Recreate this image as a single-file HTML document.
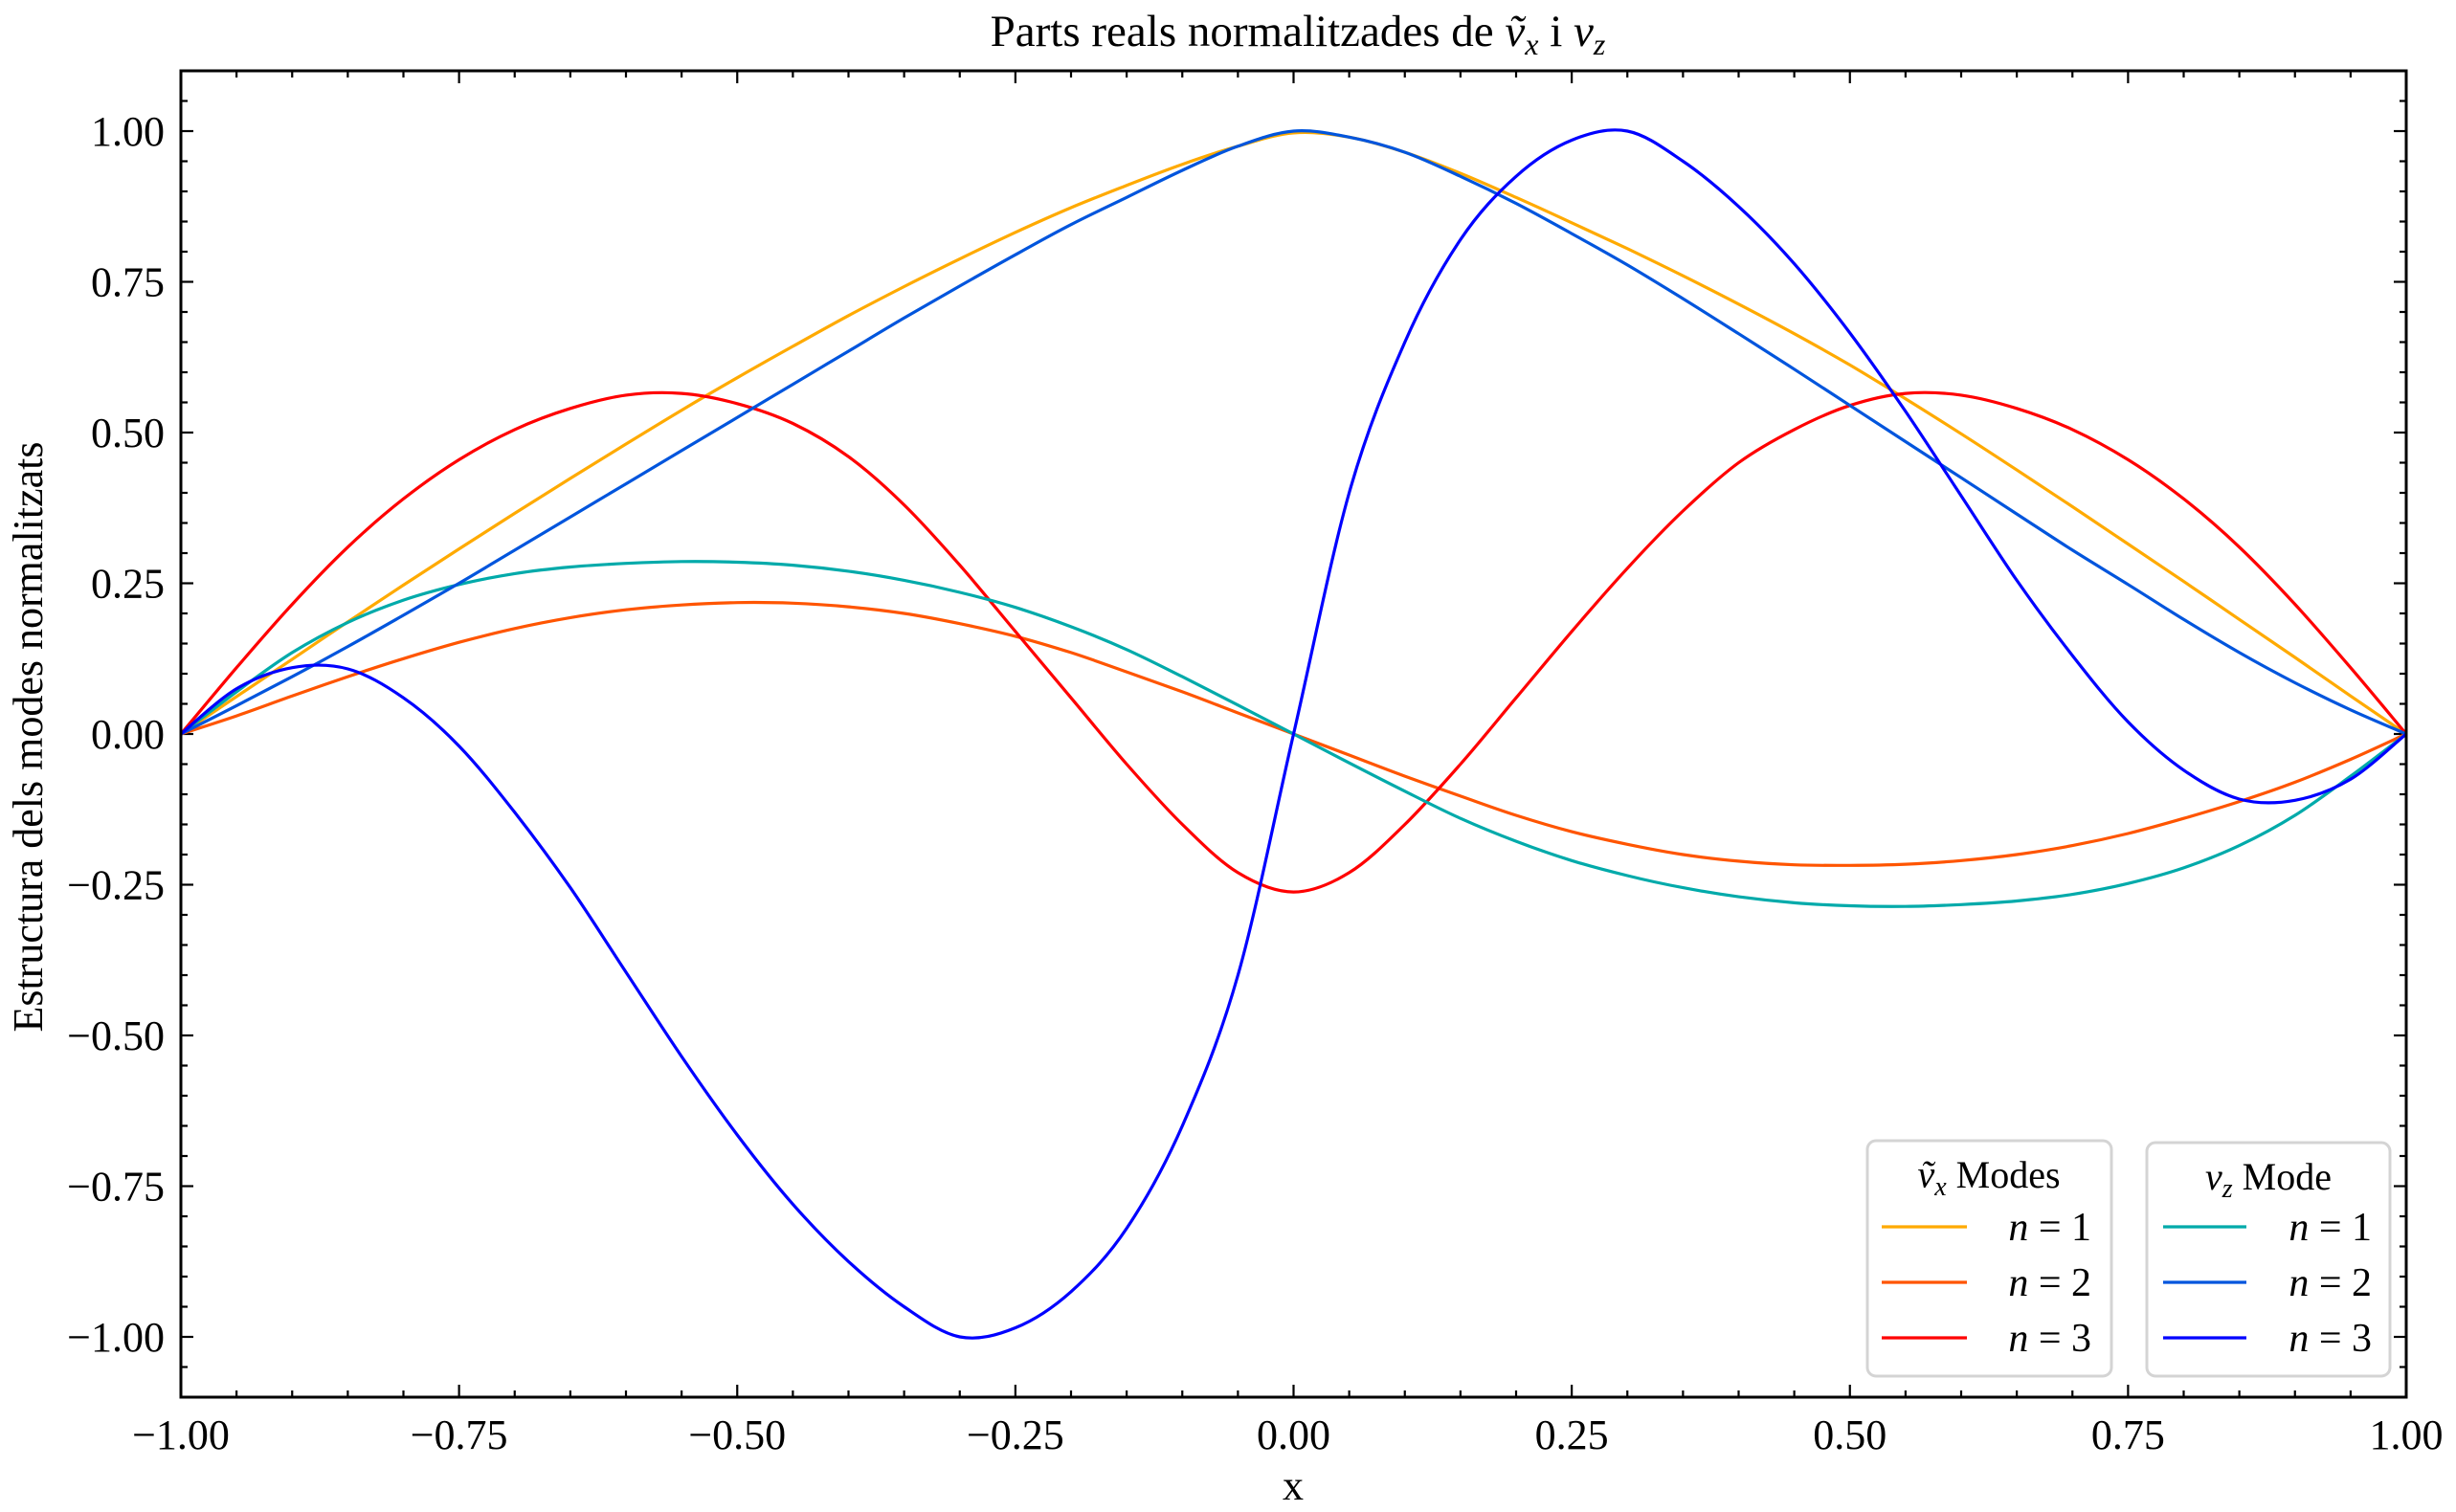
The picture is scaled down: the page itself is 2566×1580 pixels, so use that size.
<!DOCTYPE html>
<html><head><meta charset="utf-8"><style>
html,body{margin:0;padding:0;background:#fff;}
svg{display:block;font-family:"Liberation Serif",serif;}
</style></head><body>
<svg id="chart" width="2566" height="1580" viewBox="0 0 2566 1580" xmlns="http://www.w3.org/2000/svg">
<rect width="2566" height="1580" fill="#fff"/>
<text x="1356" y="48" font-size="47" text-anchor="middle">Parts reals normalitzades de <tspan font-style="italic">ṽ</tspan><tspan font-style="italic" font-size="32" dy="9">x</tspan><tspan dy="-9"> i </tspan><tspan font-style="italic">v</tspan><tspan font-style="italic" font-size="32" dy="9">z</tspan></text>
<text transform="translate(44,770) rotate(-90)" font-size="44" text-anchor="middle">Estructura dels modes normalitzats</text>
<text x="1351" y="1567" font-size="44" text-anchor="middle">x</text>
<g id="ticks"></g>
<g id="series"></g>
<rect x="189" y="74" width="2325" height="1386" fill="none" stroke="#000" stroke-width="3"/>
<g>
<rect x="1951" y="1192" width="255" height="246" rx="9" fill="#fff" stroke="#d4d4d4" stroke-width="3"/>
<text x="2078" y="1241" font-size="40" text-anchor="middle"><tspan font-style="italic">ṽ</tspan><tspan font-style="italic" font-size="28" dy="8">x</tspan><tspan dy="-8"> Modes</tspan></text>
</g>
<g>
<rect x="2243" y="1194" width="254" height="244" rx="9" fill="#fff" stroke="#d4d4d4" stroke-width="3"/>
<text x="2370" y="1243" font-size="40" text-anchor="middle"><tspan font-style="italic">v</tspan><tspan font-style="italic" font-size="28" dy="8">z</tspan><tspan dy="-8"> Mode</tspan></text>
</g>
<g id="legend-entries"></g>
</svg>
<script>
const xs = [-1,-0.95,-0.9,-0.85,-0.8,-0.75,-0.7,-0.65,-0.6,-0.55,-0.5,-0.45,-0.4,-0.35,-0.3,-0.25,-0.2,-0.15,-0.1,-0.05,0,0.05,0.1,0.15,0.2,0.25,0.3,0.35,0.4,0.45,0.5,0.55,0.6,0.65,0.7,0.75,0.8,0.85,0.9,0.95,1];
const vx1 = [0,0.062,0.124,0.186,0.247,0.307,0.366,0.424,0.481,0.537,0.591,0.643,0.694,0.742,0.788,0.832,0.873,0.91,0.945,0.975,0.997,0.99,0.965,0.93,0.89,0.848,0.805,0.76,0.713,0.664,0.612,0.556,0.498,0.438,0.377,0.315,0.253,0.19,0.127,0.063,0];
const vx2 = [0,0.03,0.063,0.095,0.125,0.152,0.175,0.193,0.206,0.214,0.218,0.217,0.211,0.2,0.183,0.162,0.135,0.103,0.07,0.035,0,-0.035,-0.07,-0.103,-0.135,-0.162,-0.183,-0.2,-0.211,-0.217,-0.218,-0.216,-0.21,-0.2,-0.185,-0.165,-0.14,-0.112,-0.08,-0.042,0];
const vx3 = [0,0.11,0.215,0.31,0.39,0.455,0.505,0.54,0.562,0.565,0.548,0.515,0.46,0.38,0.28,0.17,0.06,-0.05,-0.15,-0.23,-0.262,-0.23,-0.15,-0.05,0.06,0.17,0.275,0.37,0.45,0.505,0.545,0.565,0.562,0.54,0.505,0.455,0.39,0.31,0.215,0.11,0];
const vz1 = [0,0.07,0.135,0.185,0.222,0.248,0.266,0.277,0.283,0.286,0.285,0.28,0.27,0.255,0.235,0.21,0.178,0.14,0.095,0.048,0,-0.048,-0.095,-0.14,-0.178,-0.21,-0.235,-0.255,-0.27,-0.28,-0.285,-0.286,-0.283,-0.277,-0.266,-0.248,-0.222,-0.185,-0.135,-0.07,0];
const vz2 = [0,0.047,0.095,0.145,0.197,0.25,0.305,0.36,0.415,0.47,0.525,0.58,0.635,0.69,0.743,0.795,0.845,0.89,0.935,0.975,1.0,0.99,0.965,0.925,0.88,0.83,0.778,0.722,0.664,0.605,0.545,0.485,0.425,0.365,0.305,0.248,0.19,0.135,0.085,0.04,0];
const vz3 = [0,0.075,0.11,0.108,0.06,-0.02,-0.13,-0.255,-0.395,-0.535,-0.665,-0.78,-0.875,-0.95,-1.0,-0.985,-0.925,-0.82,-0.65,-0.4,0,0.4,0.65,0.82,0.925,0.985,1.0,0.95,0.875,0.78,0.665,0.535,0.395,0.255,0.13,0.02,-0.06,-0.108,-0.11,-0.075,0];
const xTicks = [-1,-0.75,-0.5,-0.25,0,0.25,0.5,0.75,1];
const xTickLabels = ["−1.00","−0.75","−0.50","−0.25","0.00","0.25","0.50","0.75","1.00"];
const yTicks = [-1,-0.75,-0.5,-0.25,0,0.25,0.5,0.75,1];
const yTickLabels = ["−1.00","−0.75","−0.50","−0.25","0.00","0.25","0.50","0.75","1.00"];
const seriesNames = ["vx-n1","vx-n2","vx-n3","vz-n1","vz-n2","vz-n3"];
const seriesLabels = ["1","2","3","1","2","3"];
const seriesColors = ["#ffaa00","#ff5500","#ff0000","#00aaaa","#0055dd","#0000ff"];
const seriesData = [vx1,vx2,vx3,vz1,vz2,vz3];

const L=189,R=2514,T=74,B=1460, X0=-1,X1=1,Y0=-1.1,Y1=1.1;
function sx(v){return L+(v-X0)/(X1-X0)*(R-L);}
function sy(v){return B-(v-Y0)/(Y1-Y0)*(B-T);}
const NS="http://www.w3.org/2000/svg";
function mk(tag,attrs,parent){const e=document.createElementNS(NS,tag);for(const k in attrs)e.setAttribute(k,attrs[k]);parent.appendChild(e);return e;}

const tg=document.getElementById('ticks');
for(let i=-20;i<=20;i++){
  const v=i*0.05; const major=(i%5===0); const len=major?13:7;
  const x=sx(v);
  const t1=mk('line',{x1:x,y1:B,x2:x,y2:B-len,stroke:'#000','stroke-width':2.2},tg);
  
  
  const t2=mk('line',{x1:x,y1:T,x2:x,y2:T+len,stroke:'#000','stroke-width':2.2},tg);
  
  
}
for(let i=-22;i<=22;i++){
  const v=i*0.05; const major=(i%5===0); const len=major?13:7;
  const y=sy(v);
  const t1=mk('line',{x1:L,y1:y,x2:L+len,y2:y,stroke:'#000','stroke-width':2.2},tg);
  
  
  const t2=mk('line',{x1:R,y1:y,x2:R-len,y2:y,stroke:'#000','stroke-width':2.2},tg);
  
  
}
xTicks.forEach((v,i)=>{
  const t=mk('text',{x:sx(v),y:1514,'font-size':44,'text-anchor':'middle'},tg);
  t.textContent=xTickLabels[i];
  
  
});
yTicks.forEach((v,i)=>{
  const t=mk('text',{x:172,y:sy(v)+15,'font-size':44,'text-anchor':'end'},tg);
  t.textContent=yTickLabels[i];
  
  
});

function pathFor(ys){
  const p=xs.map((x,i)=>[sx(x),sy(ys[i])]);
  let d='M'+p[0][0].toFixed(1)+','+p[0][1].toFixed(1);
  for(let i=0;i<p.length-1;i++){
    const p0=p[Math.max(0,i-1)],p1=p[i],p2=p[i+1],p3=p[Math.min(p.length-1,i+2)];
    const c1=[p1[0]+(p2[0]-p0[0])/6,p1[1]+(p2[1]-p0[1])/6];
    const c2=[p2[0]-(p3[0]-p1[0])/6,p2[1]-(p3[1]-p1[1])/6];
    d+=' C'+c1[0].toFixed(1)+','+c1[1].toFixed(1)+' '+c2[0].toFixed(1)+','+c2[1].toFixed(1)+' '+p2[0].toFixed(1)+','+p2[1].toFixed(1);
  }
  return d;
}
const sg=document.getElementById('series');
seriesData.forEach((ys,k)=>{
  const p=mk('path',{d:pathFor(ys),fill:'none',stroke:seriesColors[k],'stroke-width':3.2,'stroke-linejoin':'round'},sg);
  
  
});

const lg=document.getElementById('legend-entries');
const legX=[[1966,2055,2185],[2260,2347,2478]];
const legY=[1282,1340,1398];
seriesNames.forEach((n,k)=>{
  const col=Math.floor(k/3), row=k%3;
  const g=mk('g',{},lg);
  
  
  mk('line',{x1:legX[col][0],y1:legY[row],x2:legX[col][1],y2:legY[row],stroke:seriesColors[k],'stroke-width':3.2},g);
  const t=mk('text',{x:legX[col][2],y:legY[row]+14,'font-size':42,'text-anchor':'end'},g);
  const a=mk('tspan',{'font-style':'italic'},t); a.textContent='n';
  const b=mk('tspan',{},t); b.textContent=' = '+seriesLabels[k];
});
</script>
</body></html>
